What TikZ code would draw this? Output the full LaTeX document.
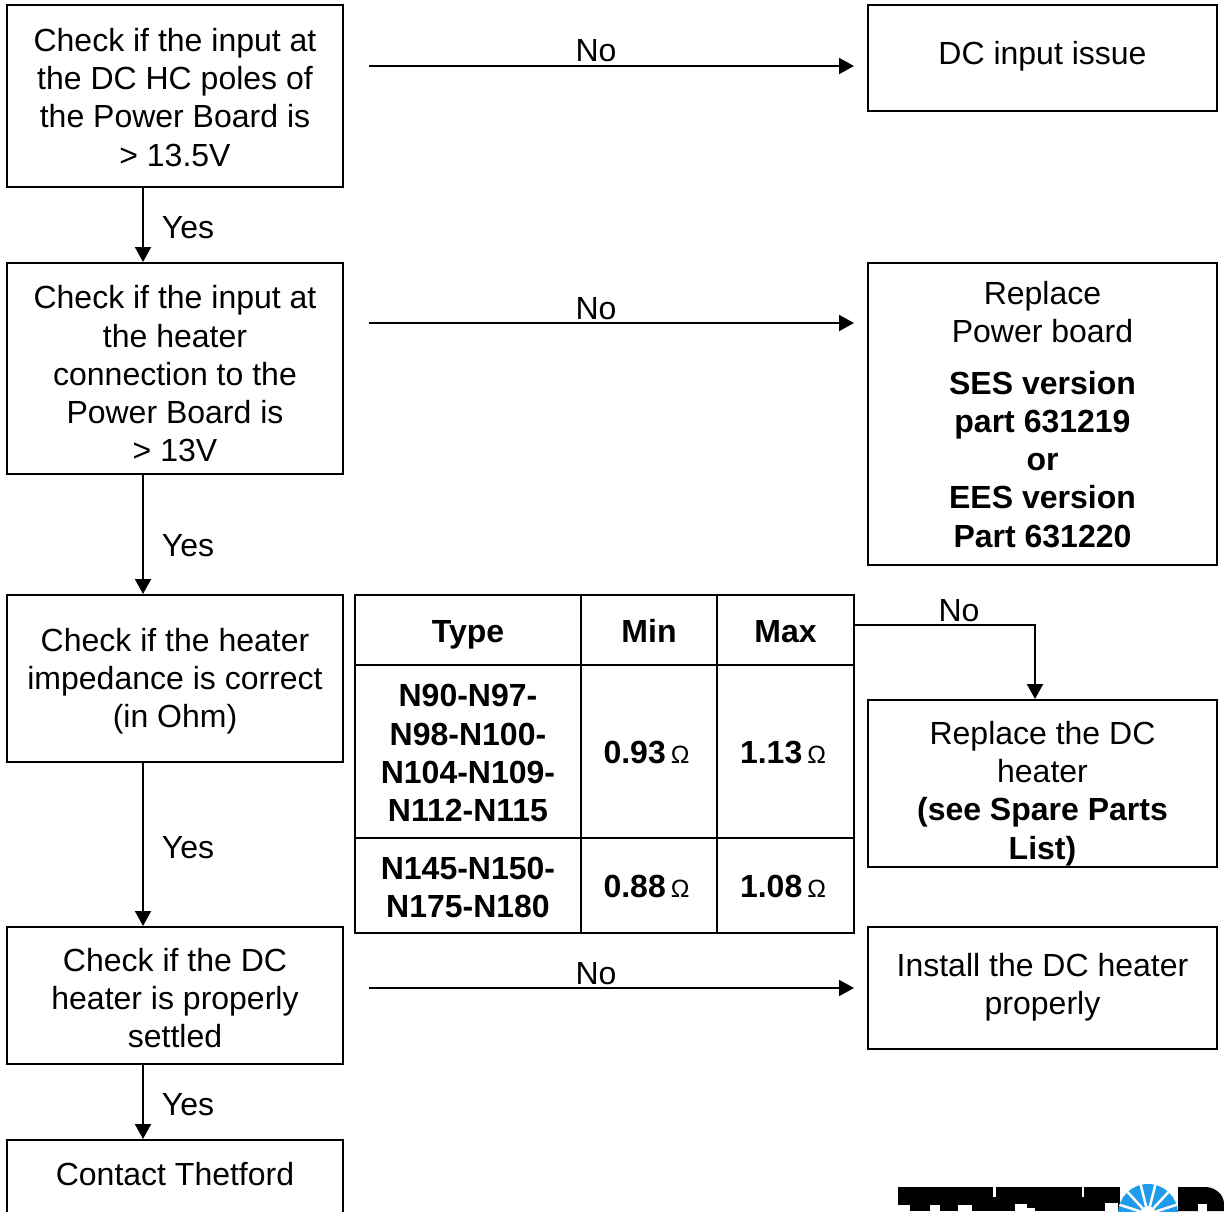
\documentclass[tikz,border=0pt]{standalone}
\usepackage{fontspec}
\setmainfont{Liberation Sans}
\usetikzlibrary{arrows.meta}
\definecolor{sunblue}{HTML}{1E9CEB}
\newcommand{\lowerby}[1]{\rule{0pt}{#1pt}}
\newcommand{\raiseby}[1]{\rule[-#1pt]{0pt}{#1pt}}
\tikzset{
	flowbox/.style={draw,line width=2pt,inner sep=0pt,align=center,minimum width=336pt,font=\fontsize{32}{38.3}\selectfont},
	sidebox/.style={flowbox,minimum width=349pt},
	cell/.style={draw,line width=2pt,inner sep=0pt,align=center,font=\fontsize{32}{38.3}\selectfont\bfseries},
	flowarrow/.style={line width=2pt,-{Triangle[length=15pt,width=16pt]}},
	sidearrow/.style={flowarrow,shorten <=25pt,shorten >=13pt},
	answer/.style={inner sep=0pt,font=\fontsize{32}{38.3}\selectfont}
}
\newcommand{\ohmsign}{\hspace{5pt}{\fontsize{25}{28}\selectfont\mdseries Ω}\hspace{5pt}}
\begin{document}
\begin{tikzpicture}[x=1pt,y=-1pt]
	\useasboundingbox (0,0) rectangle (1224,1211);
	\clip (0,0) rectangle (1224,1211);
	\fill[white] (0,0) rectangle (1224,1211);
	%-- left column
	\node[flowbox,minimum height=182pt] (input) at (175,96) {\lowerby{26}Check if the input at\\the DC HC poles of\\the Power Board is\\> 13.5V};
	\node[flowbox,minimum height=211pt] (connection) at (175,368.5) {\lowerby{34}Check if the input at\\the heater\\connection to the\\Power Board is\\> 13V};
	\node[flowbox,minimum height=167pt] (impedance) at (175,678.5) {\lowerby{29}Check if the heater\\impedance is correct\\(in Ohm)};
	\node[flowbox,minimum height=137pt] (settled) at (175,995.5) {\lowerby{28}Check if the DC\\heater is properly\\settled};
	\node[flowbox,minimum height=140pt] (contact) at (175,1210) {Contact Thetford\raiseby{72}};
	%-- right column
	\node[sidebox,minimum height=106pt] (dcissue) at (1042.5,58) {DC input issue\raiseby{10}};
	\node[sidebox,minimum height=302pt] (board) at (1042.5,414) {\lowerby{24}Replace\\Power board\\[13pt]\textbf{SES version}\\\textbf{part 631219}\\\textbf{or}\\\textbf{EES version}\\\textbf{Part 631220}};
	\node[sidebox,minimum height=167pt] (heater) at (1042.5,783.5) {\lowerby{43}Replace the DC\\heater\\\textbf{(see Spare Parts}\\\textbf{List)}};
	\node[sidebox,minimum height=122pt] (install) at (1042.5,988) {Install the DC heater\\properly\raiseby{8}};
	%-- table
	\node[cell,minimum width=226pt,minimum height=70pt] (type) at (468,630) {\lowerby{31}Type};
	\node[cell,minimum width=136pt,minimum height=70pt] (min) at (649,630) {\lowerby{31}Min\vphantom{y}};
	\node[cell,minimum width=137pt,minimum height=70pt] (max) at (785.5,630) {\lowerby{31}Max\vphantom{y}};
	\node[cell,minimum width=226pt,minimum height=173pt] (typea) at (468,751.5) {\lowerby{26}N90-N97-\\N98-N100-\\N104-N109-\\N112-N115};
	\node[cell,minimum width=136pt,minimum height=173pt] (mina) at (649,751.5) {\lowerby{24}0.93\ohmsign};
	\node[cell,minimum width=137pt,minimum height=173pt] (maxa) at (785.5,751.5) {\lowerby{24}1.13\ohmsign};
	\node[cell,minimum width=226pt,minimum height=95pt] (typeb) at (468,885.5) {\lowerby{26}N145-N150-\\N175-N180};
	\node[cell,minimum width=136pt,minimum height=95pt] (minb) at (649,885.5) {\lowerby{24}0.88\ohmsign};
	\node[cell,minimum width=137pt,minimum height=95pt] (maxb) at (785.5,885.5) {\lowerby{24}1.08\ohmsign};
	%-- connectors
	\coordinate (column) at (143,0);
	\coordinate (noa) at (0,66);
	\coordinate (nob) at (0,323);
	\coordinate (noc) at (0,988);
	\coordinate (turn) at (1035,625);
	\draw[flowarrow] (column |- input.south) -- (column |- connection.north);
	\draw[flowarrow] (column |- connection.south) -- (column |- impedance.north);
	\draw[flowarrow] (column |- impedance.south) -- (column |- settled.north);
	\draw[flowarrow] (column |- settled.south) -- (column |- contact.north);
	\draw[sidearrow] (input.east |- noa) -- (dcissue.west |- noa);
	\draw[sidearrow] (connection.east |- nob) -- (board.west |- nob);
	\draw[sidearrow] (settled.east |- noc) -- (install.west |- noc);
	\draw[flowarrow] (max.east |- turn) -- (turn) -- (turn |- heater.north);
	%-- labels
	\node[answer] (yesa) at (188,228) {Yes};
	\node[answer] (yesb) at (188,546) {Yes};
	\node[answer] (yesc) at (188,848) {Yes};
	\node[answer] (yesd) at (188,1105) {Yes};
	\node[answer] (nolabela) at (596,51) {No};
	\node[answer] (nolabelb) at (596,309) {No};
	\node[answer] (nolabelc) at (596,974) {No};
	\node[answer] (nolabeld) at (959,611) {No};
	%-- logo
	\fill (898,1187) rectangle (1120,1211);
	\fill (1178,1211) -- (1178,1187) -- (1205,1187) to[out=0,in=90] (1224,1204) -- (1224,1211) -- cycle;
	\foreach \x/\w/\t in {898/12/1205,930/10/1205,958/14/1205,993/3/1187,1015/12/1204,1027/8/1208,1082/2/1187,1105/13/1203,1198/9/1204}
		\fill[white] (\x,\t) rectangle +(\w,10);
	\fill[sunblue] (1148,1214) circle (30);
	\foreach \a in {18,47,76,104,133,162}
		\draw[white,line width=2.5pt] (1148,1214) ++(\a:-8) -- ++(\a:-22);
	\fill[white] (1148,1214) circle (8);
\end{tikzpicture}
\end{document}
